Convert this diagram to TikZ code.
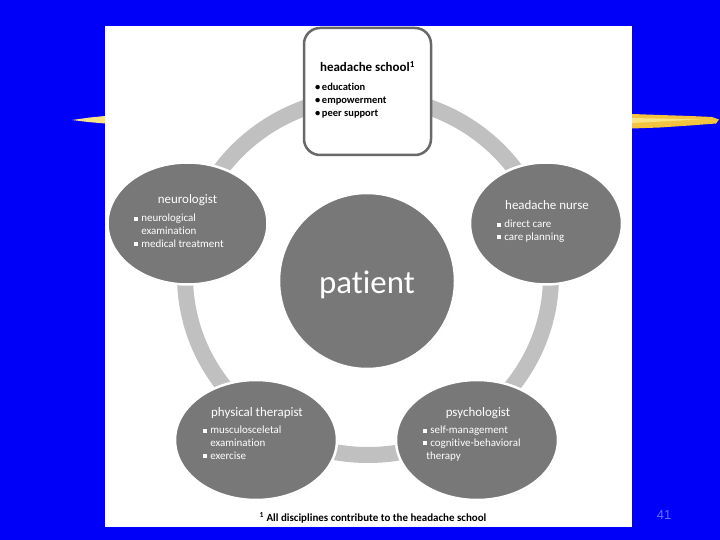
\documentclass[tikz,border=0pt]{standalone}
\usepackage{fontspec}
\setmainfont{Carlito}[Ligatures=NoCommon]
\newfontfamily\arialfont{Liberation Sans}
\usepackage{tikz}
\usetikzlibrary{shapes.geometric,positioning,calc,shadows}
\definecolor{slideblue}{RGB}{0,0,250}
\definecolor{discgray}{RGB}{120,120,120}
\definecolor{ringgray}{RGB}{192,192,192}
\definecolor{framegray}{RGB}{105,105,105}
\definecolor{brushyellow}{RGB}{244,196,64}
\definecolor{brushpale}{RGB}{250,228,130}
\definecolor{numblue}{RGB}{95,115,255}
\newcommand\sqbul{\makebox[0.65em][l]{\rule[0.2ex]{0.36em}{0.36em}}}
\newcommand\rdbul{\makebox[0.65em][l]{\textbullet}}
\newcommand\indnt{\hspace*{0.65em}}

\begin{document}
\begin{tikzpicture}[x=1bp, y=-1bp,
  disc/.style={ellipse, draw=white, line width=2.5bp, fill=discgray, inner sep=0pt,
               drop shadow={shadow xshift=0.8bp, shadow yshift=-0.8bp, opacity=0.3}},
  school/.style={rectangle, rounded corners=16bp, draw=framegray, line width=2.5bp,
                 fill=white, minimum width=127bp, minimum height=127bp},
  title/.style={anchor=base, text=white, font=\fontsize{13}{15}\selectfont},
  items/.style={anchor=north west, inner sep=0pt, align=left, text=white,
                font=\fontsize{11}{12.7}\selectfont},
  ring/.style={draw=ringgray, line width=16bp}
]
  \useasboundingbox (0,0) rectangle (720,540);
  \fill[slideblue] (0,0) rectangle (720,540);
  \fill[brushpale] (72,120) -- (90,117.5) -- (105,116) -- (105,123.5) -- (88,122) -- cycle;
  \fill[brushyellow] (632,114) -- (660,115) -- (690,116) -- (712,117) -- (719,119.5)
    -- (716,123.5) -- (690,125.5) -- (660,127.5) -- (632,128.5) -- cycle;
  \fill[brushpale] (632,118) -- (700,119.5) -- (632,123) -- cycle;
  \fill[white] (105,26) rectangle (632,527);

  \draw[ring] (368,276) ellipse [x radius=183bp, y radius=179bp];

  \node[school] (school) at (367.5,91.5) {};
  \node[disc, minimum width=160bp, minimum height=122bp] (neuro) at (187.5,223.5) {};
  \node[disc, minimum width=152bp, minimum height=122bp] (nurse) at (546,223.5) {};
  \node[disc, minimum width=162bp, minimum height=120bp] (physio) at (256,440) {};
  \node[disc, minimum width=162bp, minimum height=120bp] (psych) at (477,440) {};
  \node[disc, minimum size=176bp] (patient) at (367,281) {};

  \node[title, text=black, font=\bfseries\fontsize{13}{15}\selectfont] (schoolT)
    at ($(school.center)+(0,-19.5)$) {headache school\textsuperscript{1}};
  \node[items, text=black, font=\bfseries\fontsize{10.5}{13}\selectfont] (schoolL)
    at ($(school.center)+(-52.5,-8.5)$) {\rdbul education\\\rdbul empowerment\\\rdbul peer support};

  \node[title] (neuroT) at ($(neuro.center)+(0,-19.5)$) {neurologist};
  \node[items] (neuroL) at ($(neuro.center)+(-53.5,-9.5)$)
    {\sqbul neurological\\\indnt examination\\\sqbul medical treatment};

  \node[title] (nurseT) at ($(nurse.center)+(1,-13.5)$) {headache nurse};
  \node[items] (nurseL) at ($(nurse.center)+(-49,-3.5)$) {\sqbul direct care\\\sqbul care planning};

  \node[title] (physioT) at ($(physio.center)+(1,-24)$) {physical therapist};
  \node[items] (physioL) at ($(physio.center)+(-53,-14)$)
    {\sqbul musculosceletal\\\indnt examination\\\sqbul exercise};

  \node[title] (psychT) at ($(psych.center)+(1,-24)$) {psychologist};
  \node[items] (psychL) at ($(psych.center)+(-54,-14)$)
    {\sqbul self-management\\\sqbul cognitive-behavioral\\\hspace*{0.3em}therapy};

  \node[title, font=\fontsize{33}{36}\selectfont] (patientT) at ($(patient.center)+(0,12)$) {patient};

  \node[anchor=base, font=\bfseries\fontsize{11}{13}\selectfont] (note) at (373,521)
    {\textsuperscript{1} All disciplines contribute to the headache school};
  \node[font=\arialfont\fontsize{13}{15}\selectfont, text=numblue] (pageno) at (664,515) {41};
\end{tikzpicture}
\end{document}
